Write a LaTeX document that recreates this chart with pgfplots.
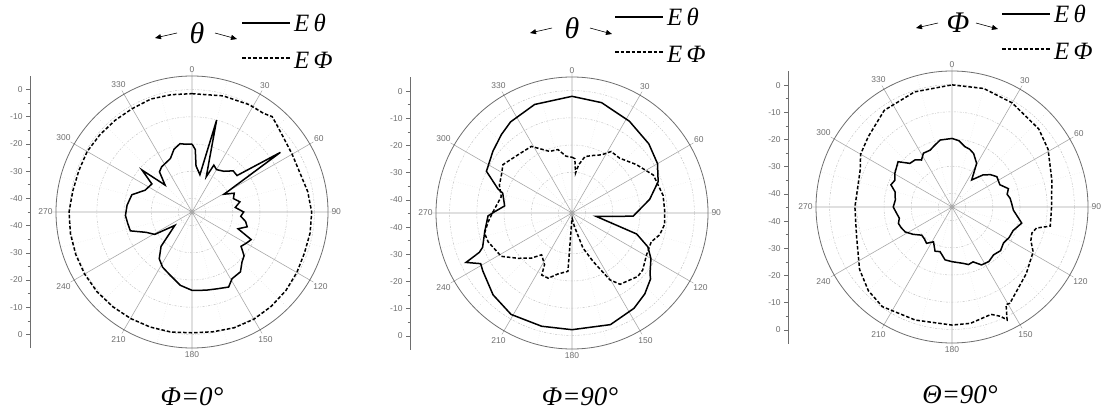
\documentclass[border=0pt]{standalone}
\usepackage{pgfplots}
\pgfplotsset{compat=1.18}
\usepackage{pgfplotstable}
\usepgfplotslibrary{polar}
\usetikzlibrary{arrows.meta}
\usepackage{fontspec}
\setmainfont{Liberation Serif}
\setsansfont{Liberation Sans}
\definecolor{axgray}{HTML}{6E6E6E}
\definecolor{spoke}{HTML}{A8A8A8}
\definecolor{ring}{HTML}{C4C4C4}

\pgfplotstableread{
a db
0 -20
3 -22
5 -28
12 -31
15 -10
22 -31
25 -26
30 -27
38 -26
45 -23.6
51 -23.7
56 -5.8
61 -31.5
66 -28
72 -29
78 -27
84 -29
90 -26
95 -27
100 -25
105 -24
110 -27
115 -21
120 -22
125 -23
130 -20
135 -19
141 -16.7
149 -16.4
154 -14.3
162 -15.3
170 -15.8
180 -16.2
189 -17.7
199 -20.4
208 -22
215 -24
222 -28
232 -37
239 -29
246 -26.6
253 -21.3
260 -21
267 -20.5
276 -21
286 -22
295 -26
305 -27
310 -21
315 -31
321 -26
326 -25
338 -23.8
344 -21
350 -19.5
355 -20
360 -20
}\PoneT

\pgfplotstableread{
a db
0 -1.5
15 -0.8
28 -0.3
36 -0.2
40 0.8
43 0
50 -1.5
60 -2.5
70 -2.8
80 -1.8
90 -1
100 -0.9
110 -1
120 -0.5
130 0
140 0.3
150 0.5
160 0.3
170 -0.3
180 -0.6
190 -0.2
200 0
210 0.2
220 0.4
230 0.6
240 0.6
250 0.5
260 0.4
270 0.2
280 -0.5
290 -0.7
300 -0.5
310 -0.8
320 -1
330 -1.1
340 -0.8
350 -1.2
360 -1.5
}\PoneP

\pgfplotstableread{
a db
0 -2.1
15 -3
32 -5.2
48 -7
60 -8.7
70 -11.3
80 -16
93 -22.5
98 -36
108 -20
114 -14.5
120 -11.5
128 -8.6
130 -7.3
138 -5
147 -3.2
161 -1.6
180 -2.1
195 -1.9
211 -1.5
224 -3.2
237 -5.9
241 -6.6
245 -2
247 -8
249 -9.8
258 -12.2
268 -14.1
271 -16.6
276 -20.1
286 -18.5
288 -16.4
296 -10
308 -8.1
318 -6.2
326 -4.6
341 -2.8
360 -2.1
}\PtwoT

\pgfplotstableread{
a db
0 -24.5
3 -25
5 -30.3
8 -27
13 -23.7
20 -22.5
27 -21
32.5 -18.2
41 -18.3
53 -15.4
65 -12
79 -10.9
89 -10.9
97 -10.7
104 -11.8
110 -14
119 -13.6
129 -11.6
134 -11.4
146 -13.4
150.5 -16.8
156.5 -25.6
162.6 -31.5
170 -40
178 -43
182 -42
184 -23.5
193 -22
200 -19.5
206 -19.6
208 -23.5
216 -26
222 -22.7
230 -19.1
238.5 -14.5
251 -12.4
257 -12
264 -14
271 -16
283 -18.3
291 -16.4
298.5 -15.5
305 -14
317 -15.8
328.6 -16.3
340 -20.9
347.5 -21.1
354 -24
360 -24.5
}\PtwoP

\pgfplotstableread{
a db
0 -19.8
6 -20.5
12 -22.3
17 -22.8
22 -23.8
29.5 -26.6
36 -32.7
44 -28.6
50 -26.5
56 -25.1
65 -25.6
72 -23.2
77 -24.2
81.5 -23.4
87 -23
93 -22.4
103 -18.7
111 -20.9
118 -21.2
125 -21.9
132 -21
139 -21.7
146 -20.8
153 -21.1
159 -23.4
164 -23
169 -23.9
180 -24.9
187.5 -25.4
195 -28
201 -27.6
208 -30.5
215 -28.7
221 -29.5
227 -29.8
235 -27.5
242 -25.5
248 -24.8
253 -24.4
258 -25.2
263.5 -24.5
270 -23.4
277 -24
285 -23.3
290 -21.1
295 -21.8
300.6 -20.6
310 -19.1
316 -22.7
322 -23
327 -24.4
332 -22.6
339 -22.6
344 -21.5
350 -20
360 -19.8
}\PthreeT

\pgfplotstableread{
a db
0 -0.1
15 0.1
30 -0.8
48 -2.1
59 -3.8
75 -7
90 -8.4
101 -8.2
104 -13
108 -14.1
113 -13.5
119 -10.9
132 -8.3
149 -3.7
151 -4
154 1.2
156 -1
160 -3
171 -1.7
180 -1.6
198 -1.3
215 -0.3
225 -1.5
236 -4
253 -8.3
270 -9.3
292 -8.6
300 -6.2
310 -4.8
325 -1.6
342 -0.5
360 -0.1
}\PthreeP

\tikzset{
  Eth/.style={black, line width=1.5bp},
  Eph/.style={black, line width=1.5bp, dash pattern=on 3.5bp off 2bp},
  harr/.style={-{Triangle[length=6bp,width=5bp]}, line width=0.6bp, black},
}

\pgfplotsset{
  radpolar/.style={
    anchor=center,
    scale only axis, width=272bp, height=272bp,
    ymin=0, ymax=50,
    ytick={5,15,25,35,45}, yticklabels={},
    major y tick style={draw=none},
    ymajorgrids,
    major y grid style={ring, line width=0.5bp, dash pattern=on 2bp off 1.5bp on 0.6bp off 1.5bp},
    xtick={0,30,...,330},
    xticklabels={90,60,30,0,330,300,270,240,210,180,150,120},
    minor xtick={15,45,...,345},
    xminorgrids,
    minor x grid style={ring!70, line width=0.4bp, dotted},
    xmajorgrids,
    major x grid style={spoke, line width=0.6bp},
    axis line style={axgray, line width=0.8bp},
    y axis line style={draw=none},
    major x tick style={axgray},
    minor x tick style={draw=none},
    xticklabel style={font=\fontsize{8.5}{9}\selectfont\sffamily, text=axgray},
  },
  ruler/.style={
    anchor=west,
    scale only axis, width=1bp, height=272bp,
    xmin=0, xmax=1, ymin=-50, ymax=50,
    axis x line=none, axis y line=left,
    y axis line style={-, axgray, line width=0.8bp},
    ytick={-45,-35,...,45},
    yticklabels={0,-10,-20,-30,-40,-40,-30,-20,-10,0},
    minor ytick={-40,-30,...,40},
    tick align=outside, ytick pos=left,
    major tick length=4bp, minor tick length=2.5bp,
    every tick/.style={axgray, line width=0.6bp},
    yticklabel style={font=\fontsize{8.5}{9}\selectfont\sffamily, text=axgray},
  },
}

\begin{document}
\begin{tikzpicture}[x=1bp,y=1bp]
\useasboundingbox (0,0) rectangle (1110,415);

% ---------- plot 1 ----------
\begin{axis}[ruler, at={(30bp,203bp)}]
\end{axis}
\begin{polaraxis}[radpolar, at={(192bp,203bp)}]
\addplot[Eth] table[x expr=90-\thisrow{a}, y expr=\thisrow{db}+45] {\PoneT};
\addplot[Eph] table[x expr=90-\thisrow{a}, y expr=\thisrow{db}+45] {\PoneP};
\end{polaraxis}

% ---------- plot 2 ----------
\begin{axis}[ruler, at={(410bp,201.5bp)}]
\end{axis}
\begin{polaraxis}[radpolar, at={(572bp,202bp)}]
\addplot[Eth] table[x expr=90-\thisrow{a}, y expr=\thisrow{db}+45] {\PtwoT};
\addplot[Eph] table[x expr=90-\thisrow{a}, y expr=\thisrow{db}+45] {\PtwoP};
\end{polaraxis}

% ---------- plot 3 ----------
\begin{axis}[ruler, at={(788bp,207.5bp)}]
\end{axis}
\begin{polaraxis}[radpolar, at={(952bp,208bp)}]
\addplot[Eth] table[x expr=90-\thisrow{a}, y expr=\thisrow{db}+45] {\PthreeT};
\addplot[Eph] table[x expr=90-\thisrow{a}, y expr=\thisrow{db}+45] {\PthreeP};
\end{polaraxis}

% ---------- legends ----------
\foreach \cx/\cy/\lx/\ly/\sym in {197/382/242/392/θ, 572/387/615/398/θ, 958/392/1002/401/Φ}{
  \node[font=\fontsize{30}{30}\selectfont\itshape] at (\cx,\cy) {\sym};
  \draw[harr] (\cx-20,\cy) -- (\cx-42,\cy-5);
  \draw[harr] (\cx+18,\cy) -- (\cx+40,\cy-6);
  \draw[Eth] (\lx,\ly) -- (\lx+48,\ly);
  \node[anchor=west, font=\fontsize{25}{25}\selectfont\itshape, inner sep=0pt] at (\lx+52,\ly) {E\,θ};
  \draw[Eph] (\lx,\ly-35) -- (\lx+48,\ly-35);
  \node[anchor=west, font=\fontsize{25}{25}\selectfont\itshape, inner sep=0pt] at (\lx+52,\ly-37) {E\,Φ};
}

% ---------- titles ----------
\node[font=\fontsize{27}{27}\selectfont\itshape] at (192,18) {Φ=0°};
\node[font=\fontsize{27}{27}\selectfont\itshape] at (580,18) {Φ=90°};
\node[font=\fontsize{27}{27}\selectfont\itshape] at (960,20) {Θ=90°};
\end{tikzpicture}
\end{document}
